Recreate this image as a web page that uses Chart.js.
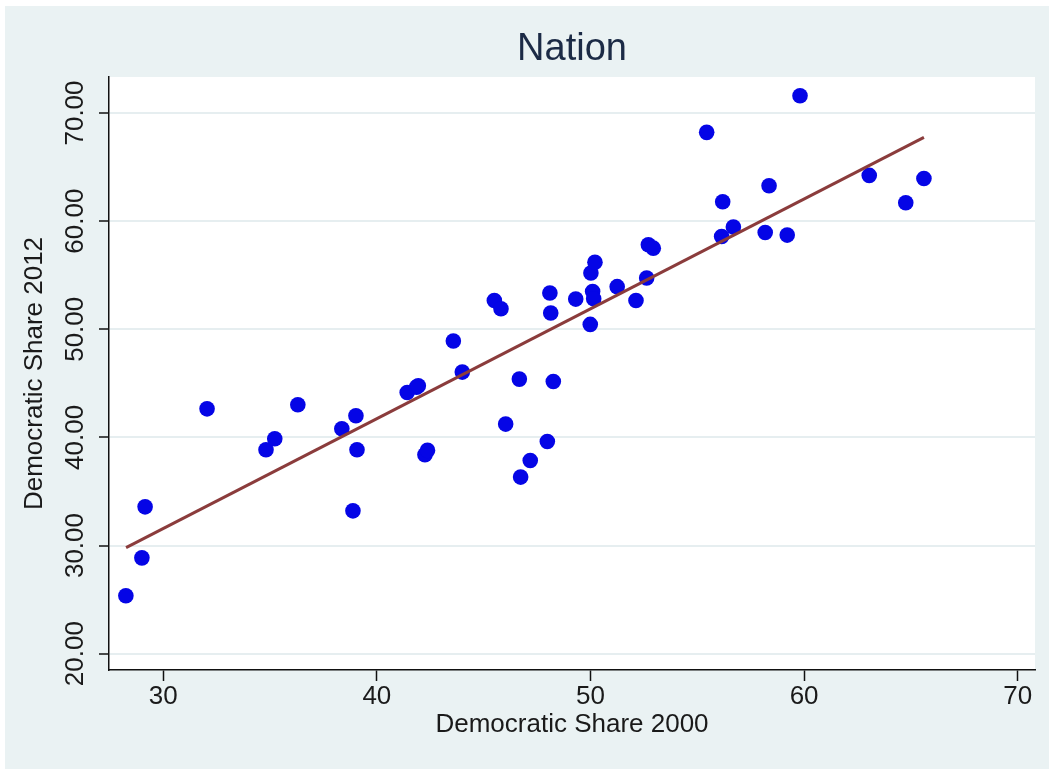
<!DOCTYPE html>
<html>
<head>
<meta charset="utf-8">
<title>Nation</title>
<script src="https://cdn.jsdelivr.net/npm/chart.js@4/dist/chart.umd.min.js"></script>
<style>
  html, body { margin: 0; padding: 0; background: #ffffff; }
  canvas { display: block; }
</style>
</head>
<body>
<canvas id="chart" width="1049" height="769"></canvas>
<script>
// Democratic vote share by state, 2000 vs 2012
const share2000 = [28.25, 29.0, 29.15, 32.05, 34.81, 35.22, 36.30, 38.36, 39.02, 39.07,
  38.88, 41.42, 41.86, 41.94, 42.25, 42.37, 43.58, 44.0, 45.5, 45.81,
  46.67, 48.26, 46.03, 47.98, 47.18, 46.73, 48.10, 48.14, 49.31, 49.99,
  50.10, 50.15, 50.02, 50.21, 51.25, 52.13, 52.63, 52.71, 52.94, 55.44,
  56.19, 56.14, 56.69, 58.36, 58.18, 59.21, 59.81, 63.05, 64.76, 65.61];
const share2012 = [25.35, 28.86, 33.58, 42.64, 38.86, 39.88, 43.02, 40.80, 42.0, 38.86,
  33.21, 44.15, 44.65, 44.77, 38.4, 38.8, 48.91, 46.04, 52.66, 51.9,
  45.39, 45.17, 41.23, 39.62, 37.86, 36.33, 53.35, 51.50, 52.79, 50.45,
  53.50, 52.82, 55.20, 56.2, 53.94, 52.66, 54.74, 57.82, 57.50, 68.21,
  61.79, 58.58, 59.45, 63.27, 58.95, 58.71, 71.60, 64.23, 61.70, 63.95];

// Linear fit endpoints
const fitX = [28.26, 65.61];
const fitY = [29.81, 67.74];

// Axis ticks
const xTicks = [30, 40, 50, 60, 70];
const yTicks = [20, 30, 40, 50, 60, 70];
const yTickLabels = ['20.00', '30.00', '40.00', '50.00', '60.00', '70.00'];

const FONT = "'Liberation Sans', Arial, Helvetica, sans-serif";
const BG = '#eaf2f3';

const points = share2000.map((x, i) => ({ x: x, y: share2012[i] }));
const fitLine = fitX.map((x, i) => ({ x: x, y: fitY[i] }));

// Page, plot-region background and rotated y tick labels
const backdrop = {
  id: 'backdrop',
  beforeDraw(chart) {
    const { ctx, chartArea: a } = chart;
    ctx.save();
    ctx.fillStyle = '#ffffff';
    ctx.fillRect(0, 0, chart.width, chart.height);
    ctx.fillStyle = BG;
    ctx.fillRect(5, 6, chart.width - 5, chart.height - 6);
    ctx.fillStyle = '#ffffff';
    ctx.fillRect(a.left, a.top, a.right - a.left, a.bottom - a.top);
    ctx.restore();
  },
  afterDraw(chart) {
    const { ctx } = chart;
    const ys = chart.scales.y;
    ctx.save();
    ctx.fillStyle = '#1a1a1a';
    ctx.font = '26px ' + FONT;
    ctx.textAlign = 'center';
    ctx.textBaseline = 'middle';
    yTicks.forEach((v, i) => {
      const py = ys.getPixelForValue(v);
      ctx.save();
      ctx.translate(76, py);
      ctx.rotate(-Math.PI / 2);
      ctx.fillText(yTickLabels[i], 0, 0);
      ctx.restore();
    });
    ctx.restore();
  }
};

new Chart(document.getElementById('chart'), {
  type: 'scatter',
  data: {
    datasets: [
      {
        type: 'line',
        label: 'Fitted values',
        data: fitLine,
        borderColor: '#8b3c3c',
        borderWidth: 3,
        pointRadius: 0,
        fill: false,
        order: 0
      },
      {
        label: 'Democratic Share 2012',
        data: points,
        backgroundColor: '#0505e6',
        borderWidth: 0,
        pointRadius: 7.8,
        pointHoverRadius: 7.8,
        order: 1
      }
    ]
  },
  options: {
    responsive: false,
    devicePixelRatio: 1,
    animation: false,
    layout: { padding: { left: 0, right: 14, top: 0, bottom: 0 } },
    plugins: {
      legend: { display: false },
      tooltip: { enabled: false },
      title: {
        display: true,
        text: 'Nation',
        fullSize: false,
        color: '#1c2b46',
        font: { family: FONT, size: 38, weight: 'normal', lineHeight: 1.2 },
        padding: { top: 27, bottom: 4.4 }
      }
    },
    scales: {
      x: {
        type: 'linear',
        min: 27.46,
        max: 70.81,
        afterBuildTicks(scale) { scale.ticks = xTicks.map(v => ({ value: v })); },
        afterFit(scale) { scale.height = 99; },
        grid: {
          drawOnChartArea: false,
          drawTicks: true,
          tickLength: 11,
          tickColor: '#111111',
          tickWidth: 1.5
        },
        border: { display: true, color: '#111111', width: 1.5 },
        ticks: {
          color: '#1a1a1a',
          padding: 0,
          maxRotation: 0,
          font: { family: FONT, size: 26 },
          callback: v => String(v)
        },
        title: {
          display: true,
          text: 'Democratic Share 2000',
          color: '#1a1a1a',
          font: { family: FONT, size: 26, lineHeight: 1.2 },
          padding: { top: 0, bottom: 29 }
        }
      },
      y: {
        type: 'linear',
        min: 18.49,
        max: 73.33,
        afterBuildTicks(scale) { scale.ticks = yTicks.map(v => ({ value: v })); },
        afterFit(scale) { scale.width = 109; },
        grid: {
          color: '#e6eef0',
          lineWidth: 2,
          drawTicks: true,
          tickLength: 10,
          tickColor: '#111111',
          tickWidth: 1.5
        },
        border: { display: true, color: '#111111', width: 1.5 },
        ticks: { display: false },
        title: {
          display: true,
          text: 'Democratic Share 2012',
          color: '#1a1a1a',
          font: { family: FONT, size: 26, lineHeight: 1.2 },
          padding: { top: 19, bottom: 0 }
        }
      }
    }
  },
  plugins: [backdrop]
});
</script>
</body>
</html>
